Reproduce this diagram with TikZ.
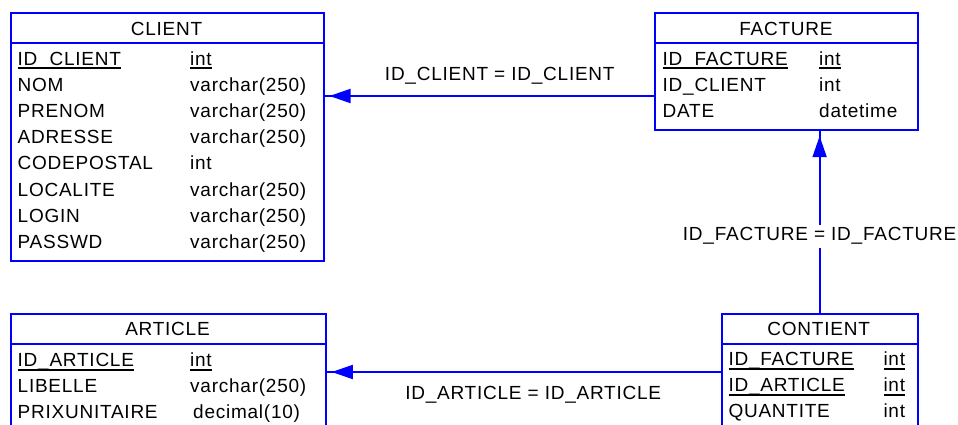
\documentclass[tikz,border=0pt]{standalone}
\usepackage{fontspec}
\setmainfont{Liberation Sans}[LetterSpace=4]
\usetikzlibrary{arrows.meta}
\definecolor{pdblue}{RGB}{0,0,255}
\newsavebox\keybox
\newcommand\keyul[1]{\sbox\keybox{#1}\rlap{\usebox\keybox}\rule[-4pt]{\wd\keybox}{2.1pt}}
\begin{document}
\begin{tikzpicture}[x=1pt,y=-1pt,
  tbl/.style={draw=pdblue, line width=1.8pt, rectangle, anchor=north west, inner sep=0pt},
  sep/.style={draw=pdblue, line width=1.8pt},
  txt/.style={anchor=base west, inner sep=0pt, font=\fontsize{19}{19}\selectfont},
  hdr/.style={anchor=base, inner sep=0pt, font=\fontsize{19}{19}\selectfont},
  rel/.style={draw=pdblue, line width=1.8pt},
  relhead/.style={draw=pdblue, line width=1.8pt, shorten >=5pt, -{Triangle[length=21pt,width=14pt]}},
  lbl/.style={fill=white, inner sep=3pt, font=\fontsize{19}{19}\selectfont}]
\useasboundingbox (0,0) rectangle (958,425);
\clip (0,0) rectangle (958,425);
% CLIENT
\node[tbl, minimum width=312.7pt, minimum height=247.5pt] (client) at (10,12.3) {};
\draw[sep] (client.west |- 0,43.3) -- (client.east |- 0,43.3);
\node[hdr] (clienth) at (166.5,35.2) {CLIENT};
\node[txt] (c1a) at (17.5,65.5) {\keyul{ID\_CLIENT}};
\node[txt] (c1b) at (190,65.5) {\keyul{int}};
\node[txt] (c2a) at (17.5,91.6) {NOM};
\node[txt] (c2b) at (190,91.6) {varchar(250)};
\node[txt] (c3a) at (17.5,117.7) {PRENOM};
\node[txt] (c3b) at (190,117.7) {varchar(250)};
\node[txt] (c4a) at (17.5,143.8) {ADRESSE};
\node[txt] (c4b) at (190,143.8) {varchar(250)};
\node[txt] (c5a) at (17.5,169.9) {CODEPOSTAL};
\node[txt] (c5b) at (190,169.9) {int};
\node[txt] (c6a) at (17.5,196) {LOCALITE};
\node[txt] (c6b) at (190,196) {varchar(250)};
\node[txt] (c7a) at (17.5,222.1) {LOGIN};
\node[txt] (c7b) at (190,222.1) {varchar(250)};
\node[txt] (c8a) at (17.5,248.2) {PASSWD};
\node[txt] (c8b) at (190,248.2) {varchar(250)};
% FACTURE
\node[tbl, minimum width=262.7pt, minimum height=117pt] (facture) at (654,12.3) {};
\draw[sep] (facture.west |- 0,43.3) -- (facture.east |- 0,43.3);
\node[hdr] (factureh) at (786,35.2) {FACTURE};
\node[txt] (f1a) at (662.5,65.5) {\keyul{ID\_FACTURE}};
\node[txt] (f1b) at (819,65.5) {\keyul{int}};
\node[txt] (f2a) at (662.5,91.6) {ID\_CLIENT};
\node[txt] (f2b) at (819,91.6) {int};
\node[txt] (f3a) at (662.5,117.5) {DATE};
\node[txt] (f3b) at (819,117.5) {datetime};
% ARTICLE
\node[tbl, minimum width=315pt, minimum height=140pt] (article) at (10,312.7) {};
\draw[sep] (article.west |- 0,344.3) -- (article.east |- 0,344.3);
\node[hdr] (articleh) at (167.5,335.2) {ARTICLE};
\node[txt] (a1a) at (17.5,366.7) {\keyul{ID\_ARTICLE}};
\node[txt] (a1b) at (190,366.7) {\keyul{int}};
\node[txt] (a2a) at (17.5,392.5) {LIBELLE};
\node[txt] (a2b) at (190,392.5) {varchar(250)};
\node[txt] (a3a) at (17.5,418.3) {PRIXUNITAIRE};
\node[txt] (a3b) at (193,418.3) {decimal(10)};
% CONTIENT
\node[tbl, minimum width=196pt, minimum height=140pt] (contient) at (720.7,313.3) {};
\draw[sep] (contient.west |- 0,344.3) -- (contient.east |- 0,344.3);
\node[hdr] (contienth) at (818.7,335.7) {CONTIENT};
\node[txt] (k1a) at (728.3,365.7) {\keyul{ID\_FACTURE}};
\node[txt] (k1b) at (883.3,365.7) {\keyul{int}};
\node[txt] (k2a) at (728.3,391.7) {\keyul{ID\_ARTICLE}};
\node[txt] (k2b) at (883.3,391.7) {\keyul{int}};
\node[txt] (k3a) at (728.3,417.5) {QUANTITE};
\node[txt] (k3b) at (883.3,417.5) {int};
% relations
\draw[relhead] (facture.west |- 0,96) -- (client.east |- 0,96);
\draw[rel] (facture.west |- 0,96) -- node[pos=0.468, lbl, fill=none, yshift=20.4pt] (r1) {ID\_CLIENT = ID\_CLIENT} (client.east |- 0,96);
\draw[relhead] (contient.north) -- (contient.north |- facture.south);
\draw[rel] (contient.north) -- node[pos=0.423, lbl] (r2) {ID\_FACTURE = ID\_FACTURE} (contient.north |- facture.south);
\draw[relhead] (contient.west |- 0,372) -- (article.east |- 0,372);
\draw[rel] (contient.west |- 0,372) -- node[pos=0.476, lbl, fill=none, yshift=-22.6pt] (r3) {ID\_ARTICLE = ID\_ARTICLE} (article.east |- 0,372);
\end{tikzpicture}
\end{document}
